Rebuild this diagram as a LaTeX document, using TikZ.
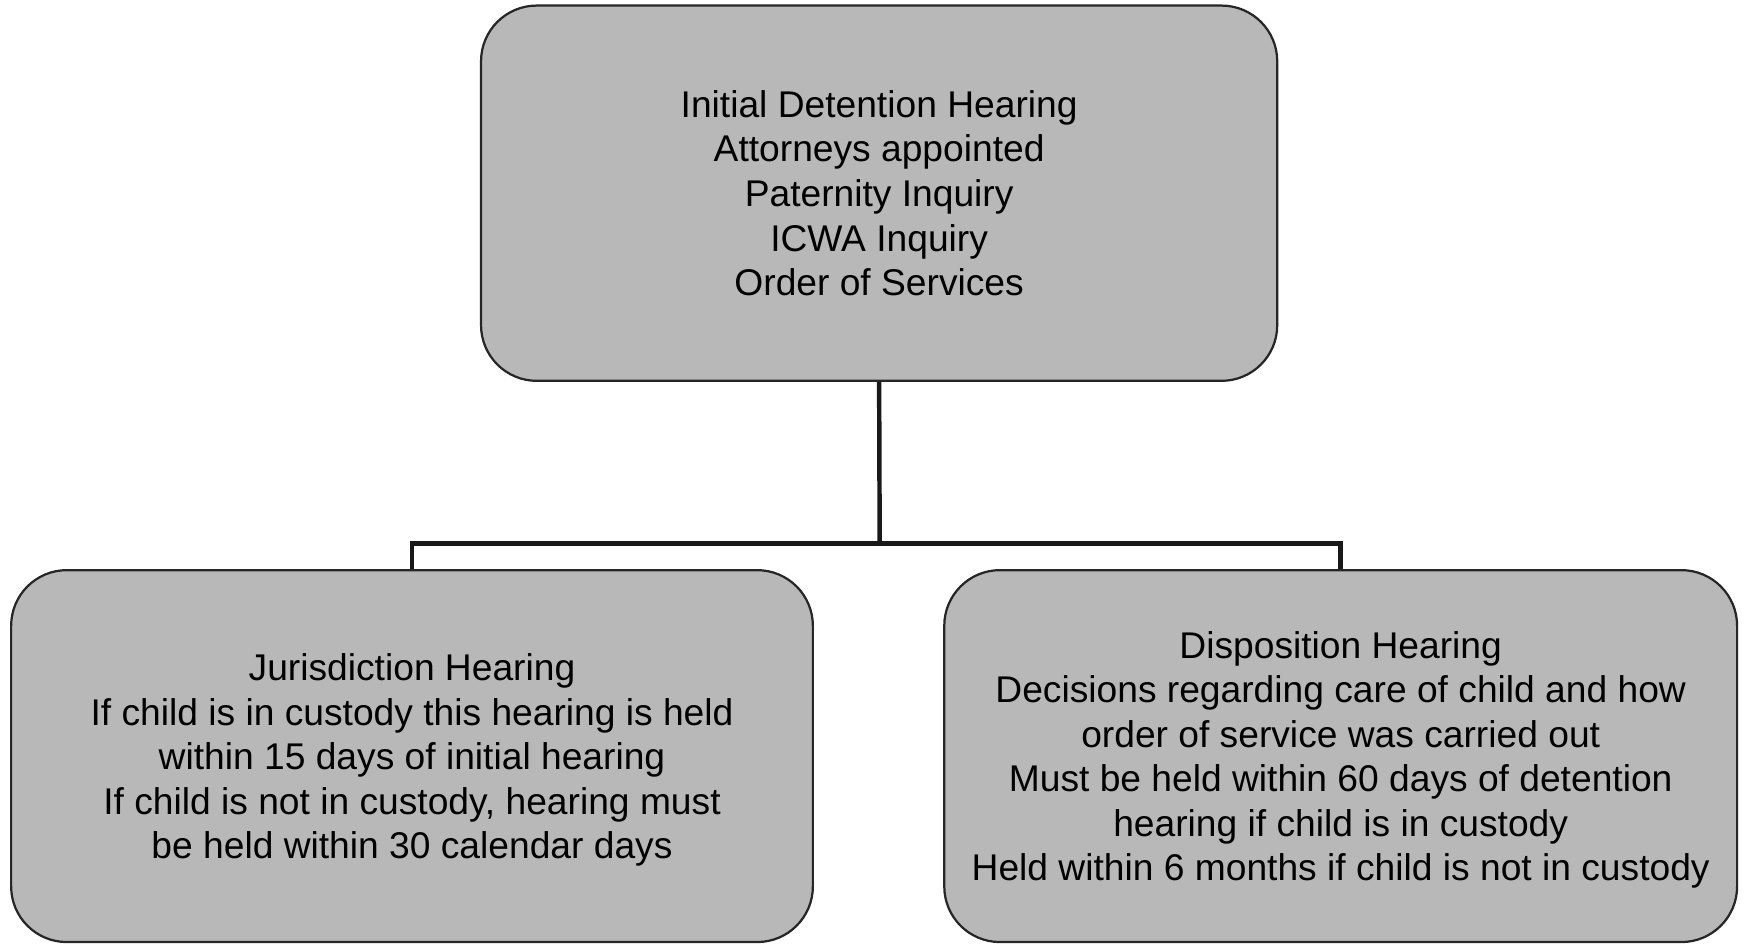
\documentclass[tikz,border=0pt]{standalone}
\usepackage{fontspec}
\setmainfont{Liberation Sans}
\newcommand{\boxfont}{\fontsize{16.7}{20}\selectfont}

\begin{document}
\begin{tikzpicture}[x=0.5pt,y=-0.5pt,
	hearing/.style={draw=black!85, line width=1pt, fill=black!28, rounded corners=25pt,
		align=center, font=\boxfont, inner sep=0pt, anchor=center},
	link/.style={draw=black!90, line width=2pt}]
	\useasboundingbox (0,0) rectangle (1568,848);

	\node [hearing, minimum width=357.5pt, minimum height=168.5pt] (detention) at (789.5,173.5)
		{Initial Detention Hearing\\Attorneys appointed\\Paternity Inquiry\\ICWA Inquiry\\Order of Services};
	\node [hearing, minimum width=360pt, minimum height=167pt, text depth=-2pt] (jurisdiction) at (370,679)
		{Jurisdiction Hearing\\If child is in custody this hearing is held\\within 15 days of initial hearing\\If child is not in custody, hearing must\\be held within 30 calendar days};
	\node [hearing, minimum width=356pt, minimum height=167pt, text depth=-1pt] (disposition) at (1204,679)
		{Disposition Hearing\\Decisions regarding care of child and how\\order of service was carried out\\Must be held within 60 days of detention\\hearing if child is in custody\\Held within 6 months if child is not in custody};

	\coordinate (split) at (790,488);

	\draw [link] (detention.south) -- (split);
	\draw [link] (jurisdiction.north) |- (split) -| (disposition.north);

\end{tikzpicture}
\end{document}
